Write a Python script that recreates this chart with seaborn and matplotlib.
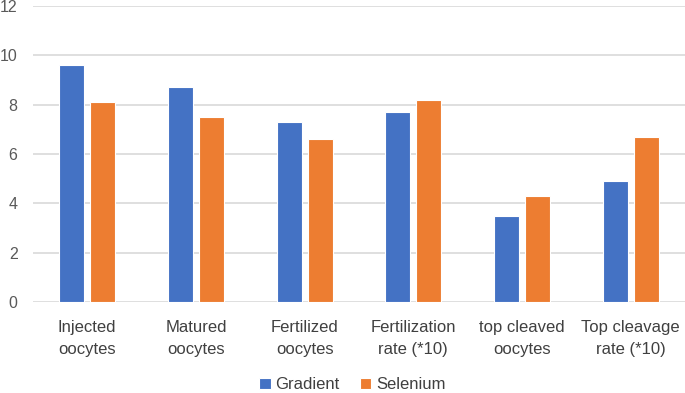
import pandas as pd
import numpy as np
import seaborn as sns
import matplotlib.pyplot as plt

# values
categories = ['Injected\noocytes', 'Matured\noocytes', 'Fertilized\noocytes',
              'Fertilization\nrate (*10)', 'top cleaved\noocytes', 'Top cleavage\nrate (*10)']
gradient = [9.6, 8.7, 7.3, 7.7, 3.5, 4.9]
selenium = [8.1, 7.5, 6.6, 8.2, 4.3, 6.7]
series = ['Gradient', 'Selenium']
colors = ['#4472C4', '#ED7D31']

df = pd.DataFrame({'category': categories * 2,
                   'value': gradient + selenium,
                   'series': [series[0]] * len(categories) + [series[1]] * len(categories)})

sns.set_style('white')
plt.rcParams['font.family'] = ['Liberation Sans', 'DejaVu Sans']

fig = plt.figure(figsize=(6.85, 3.93), dpi=100)
ax = fig.add_axes([0.048, 0.232, 0.952, 0.753])

sns.barplot(data=df, x='category', y='value', hue='series', palette=colors, saturation=1,
            width=0.57, gap=0.19, edgecolor='white', linewidth=0.8, ax=ax, zorder=3)

ax.set_ylim(0, 12)
ax.set_yticks(range(0, 13, 2))
ax.set_xlim(-0.5, len(categories) - 0.5)
ax.grid(axis='y', color='#d9d9d9', linewidth=1.2, zorder=0)
ax.set_axisbelow(True)
for s in ax.spines.values():
    s.set_visible(False)
ax.tick_params(axis='y', length=0, pad=11, labelsize=11.5, labelcolor='#595959')
ax.tick_params(axis='x', length=0, pad=13, labelsize=12, labelcolor='#404040')
for t in ax.get_xticklabels():
    t.set_linespacing(1.6)
ax.set_xlabel('')
ax.set_ylabel('')

ax.legend(loc='lower center', bbox_to_anchor=(0.49, -0.345), ncol=2, frameon=False,
          fontsize=12, handlelength=0.7, handleheight=0.7, handletextpad=0.3,
          columnspacing=1.2, labelcolor='#404040', borderaxespad=0.3)

fig.savefig('out.png', dpi=100)
